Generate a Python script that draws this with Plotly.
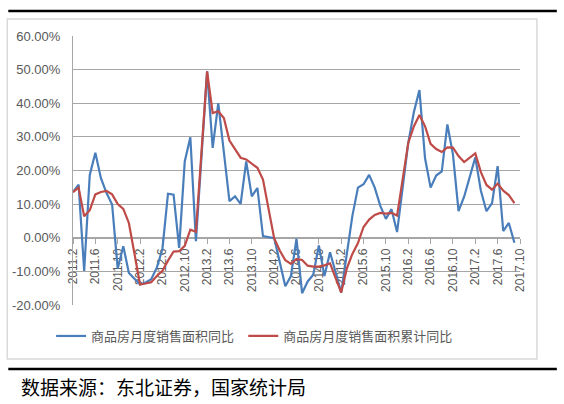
import plotly.graph_objects as go

# **Dados** (%; janeiro não é publicado -> None)
meses = [f"{a}.{m}" for a in range(2011, 2018) for m in range(1, 13)]
meses = meses[meses.index("2011.2"):meses.index("2017.10") + 1]

mensal_yoy = [
    13.6, 15.8, -9.9, 18.7, 25.3, 17.7, 13.3, 9.9, -9.2, -2.5, -10.5,            # 2011
    None, -13.9, -13.3, -12.3, -8.9, -3.4, 13.1, 12.8, -3.0, 22.7, 29.9, -1.0,   # 2012
    None, 49.5, 26.7, 40.0, 26.0, 10.9, 12.3, 10.1, 22.7, 12.3, 14.8, 0.5,       # 2013
    None, -0.1, -7.5, -14.4, -11.4, -0.3, -16.5, -13.0, -11.0, -2.3, -11.4, -4.3,  # 2014
    None, -16.3, -4.5, 6.5, 14.9, 15.9, 18.7, 14.9, 9.5, 5.6, 8.5, 1.7,          # 2015
    None, 28.2, 37.3, 43.9, 23.7, 14.9, 18.5, 19.7, 33.7, 24.8, 7.9, 12.2,       # 2016
    None, 23.9, 14.0, 7.9, 10.3, 21.3, 2.0, 4.4, -1.5, None,                     # 2017
]

acumulado_yoy = [
    13.6, 14.9, 6.4, 8.2, 12.9, 13.6, 13.9, 12.9, 10.0, 8.6, 4.4,                # 2011
    None, -13.9, -13.6, -13.2, -11.4, -9.8, -6.8, -4.1, -4.0, -2.4, 2.4, 1.8,    # 2012
    None, 49.5, 37.1, 37.6, 35.6, 28.9, 26.3, 23.8, 23.3, 22.0, 20.8, 17.3,      # 2013
    None, -0.1, -3.8, -6.7, -7.8, -6.3, -6.6, -8.3, -8.6, -8.6, -8.2, -7.6,      # 2014
    None, -16.3, -9.2, -4.8, -1.6, 3.2, 5.4, 6.8, 7.4, 7.2, 7.4, 6.6,            # 2015
    None, 28.2, 33.1, 36.5, 33.2, 27.9, 26.4, 25.5, 26.9, 26.8, 24.3, 22.5,      # 2016
    None, 25.1, 19.5, 15.7, 14.3, 16.1, 14.0, 12.7, 10.3, None,                  # 2017
]

nomes = ["商品房月度销售面积同比", "商品房月度销售面积累计同比"]
rotulos_x = meses[::4]
ticks_y = [-20, -10, 0, 10, 20, 30, 40, 50, 60]

# **Geometria da figura (pixels)**
W, H = 564, 404
L, R, T, B = 71, 520, 36, 305  # área do gráfico


def px_x(x):
    return (x - L) / (R - L)


def px_y(y):
    return (B - y) / (B - T)


cinza = "#a6a6a6"
texto = "#595959"

fig = go.Figure()
fig.add_trace(go.Scatter(x=meses, y=mensal_yoy, name=nomes[0], mode="lines",
                         connectgaps=True, line=dict(color="#4a7ebb", width=2.2),
                         legend="legend"))
fig.add_trace(go.Scatter(x=meses, y=acumulado_yoy, name=nomes[1], mode="lines",
                         connectgaps=True, line=dict(color="#be4b48", width=2.2),
                         legend="legend2"))

# uma legenda para cada série, lado a lado
leg = dict(orientation="h", xanchor="left", y=px_y(336), yanchor="middle",
           font=dict(size=13, color=texto), itemwidth=30, bgcolor="rgba(0,0,0,0)")

fig.update_layout(
    width=W, height=H,
    margin=dict(l=L, r=W - R, t=T, b=H - B),
    paper_bgcolor="white", plot_bgcolor="white",
    font=dict(family="Noto Sans CJK SC", color=texto),
    legend=dict(leg, x=px_x(49)),
    legend2=dict(leg, x=px_x(242)),
    showlegend=True,
)

# eixo x cruza em 0% (posição 0.25 do domínio)
fig.update_xaxes(
    type="category", categoryorder="array", categoryarray=meses,
    tickmode="array", tickvals=rotulos_x, ticktext=rotulos_x,
    tickangle=-90, tickfont=dict(size=12, color=texto, family="Liberation Sans"),
    anchor="free", position=0.25, showline=True, linecolor=cinza, linewidth=1,
    ticks="outside", ticklen=5, tickcolor=cinza, showgrid=False, zeroline=False,
    layer="below traces",
)
fig.update_yaxes(
    range=[-20, 60], tickmode="array", tickvals=ticks_y,
    ticktext=[f"{v:.2f}%" for v in ticks_y],
    tickfont=dict(size=13, color=texto, family="Liberation Sans"),
    showgrid=True, gridcolor=cinza, gridwidth=1, zeroline=False,
    showline=True, linecolor=cinza, linewidth=1, ticklabelstandoff=9,
)

# **Molduras e fonte**
fig.add_shape(type="rect", xref="paper", yref="paper",
              x0=px_x(5), x1=px_x(537), y0=px_y(359), y1=px_y(19),
              line=dict(color="#d9d9d9", width=1.5), layer="below")
for yy in (11, 369):
    fig.add_shape(type="line", xref="paper", yref="paper",
                  x0=px_x(6), x1=px_x(557), y0=px_y(yy), y1=px_y(yy),
                  line=dict(color="black", width=2.5))
fig.add_annotation(text="数据来源：东北证券，国家统计局", xref="paper", yref="paper",
                   x=px_x(17), y=px_y(386), xanchor="left", yanchor="middle",
                   showarrow=False, font=dict(size=19, color="black", family="Noto Sans CJK SC"))

# página sem margem para a figura ficar no canto
fig.write_html("out.html", config={"displayModeBar": False},
               post_script="document.body.style.margin='0';")
